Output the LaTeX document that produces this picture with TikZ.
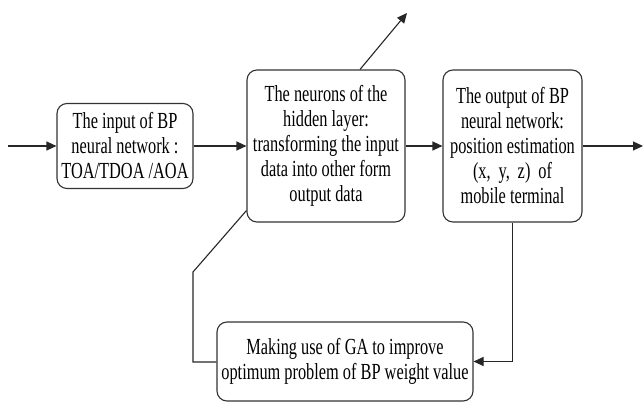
\documentclass[tikz,border=0pt]{standalone}
\usepackage{fontspec}
\setmainfont[FakeStretch=0.71]{Liberation Serif}
\usetikzlibrary{arrows.meta}
\begin{document}
\begin{tikzpicture}[x=1pt,y=-1pt,
  box/.style={draw=black!80, line width=1.1pt, rounded corners=10pt, inner sep=0pt,
    align=center, font=\fontsize{23}{25}\selectfont},
  conn/.style={draw=black!85, line width=1.1pt},
  arr/.style={conn, -{Triangle[length=10pt,width=9pt]}}]
\useasboundingbox (0,0) rectangle (644,403);
\node[box, minimum width=136pt, minimum height=85pt] (b1) at (125,146)
  {The input of BP\\neural network :\\TOA/TDOA /AOA};
\node[box, minimum width=158pt, minimum height=152pt] (b2) at (326,146)
  {The neurons of the\\hidden layer:\\transforming the input\\data into other form\\output data};
\node[box, minimum width=139pt, minimum height=152pt] (b3) at (512.5,146)
  {The output of BP\\neural network:\\position estimation\\(x,\, y,\, z)\, of\\mobile terminal};
\node[box, minimum width=256pt, minimum height=79pt] (b4) at (345,361.5)
  {Making use of GA to improve\\optimum problem of BP weight value};
\coordinate (in) at (8,146);
\coordinate (out) at (643,146);
\coordinate (up) at (407,13);
\coordinate (k1) at (193,362);
\coordinate (k2) at (193,272);
\draw[arr] (in) -- (b1.west);
\draw[arr] (b1.east) -- (b2.west);
\draw[arr] (b2.east) -- (b3.west);
\draw[arr] (b3.east) -- (out);
\draw[arr] ([xshift=34pt]b2.north) -- (up);
\draw[arr] (b3.south) -- (b3.south |- b4.east) -- (b4.east);
\draw[conn] (b4.west |- k1) -- (k1) -- (k2) -- ([yshift=12pt]b2.south west);
\end{tikzpicture}
\end{document}
